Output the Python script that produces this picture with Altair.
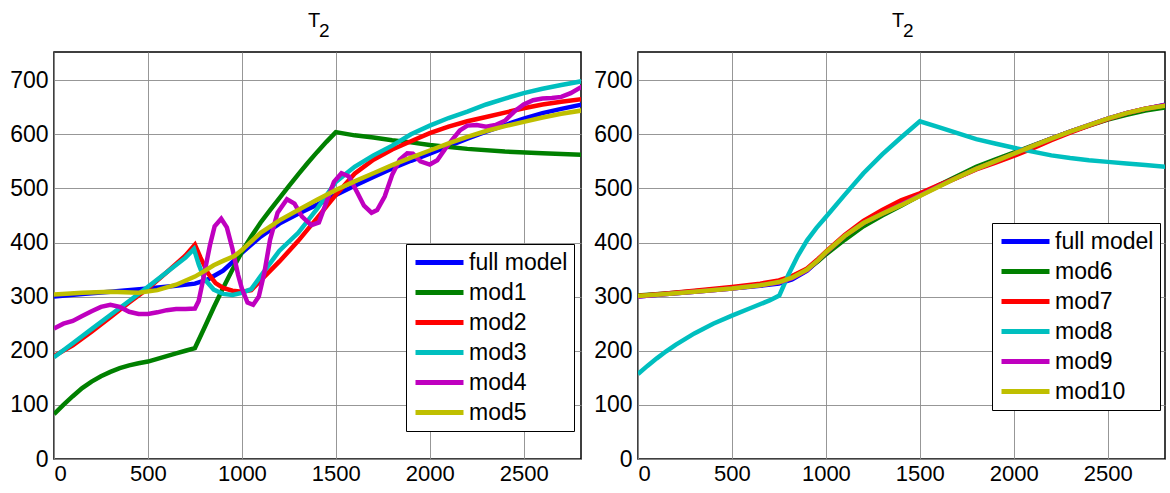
import altair as alt
import pandas as pd

# ---------------- data ----------------
full_x = [0, 150, 300, 500, 650, 750, 820, 900, 960, 1000, 1100, 1200, 1300, 1400, 1500,
          1600, 1700, 1800, 1900, 2000, 2100, 2200, 2300, 2400, 2500, 2600, 2700, 2810]
full_y = [300, 305, 309, 315, 320, 324, 332, 348, 367, 381, 411, 435, 453, 470, 488,
          505, 521, 537, 551, 564, 578, 592, 605, 617, 629, 639, 647, 655]

mod1_x = [0, 50, 100, 150, 200, 250, 300, 350, 400, 450, 500, 550, 600, 650, 700, 750,
          800, 850, 900, 950, 1000, 1050, 1100, 1150, 1200, 1250, 1300, 1350, 1400, 1450,
          1500, 1600, 1700, 1800, 1900, 2000, 2200, 2400, 2600, 2810]
mod1_y = [83, 100, 116, 131, 143, 153, 161, 168, 173, 177, 180, 185, 190, 195, 200, 205,
          242, 280, 316, 350, 383, 411, 437, 460, 482, 504, 526, 547, 567, 586,
          604, 598, 594, 589, 585, 580, 573, 568, 565, 562]

mod2_x = [0, 100, 200, 300, 400, 500, 600, 700, 750, 780, 820, 860, 900, 950, 1000, 1050,
          1100, 1200, 1300, 1400, 1500, 1600, 1700, 1800, 1900, 2000, 2100, 2200, 2300,
          2400, 2500, 2600, 2700, 2810]
mod2_y = [190, 210, 235, 262, 289, 315, 345, 376, 396, 372, 343, 325, 316, 311, 309, 312,
          330, 365, 403, 445, 488, 527, 553, 572, 587, 602, 614, 624, 632,
          640, 648, 655, 660, 665]

mod3_x = [0, 100, 200, 300, 400, 500, 600, 700, 745, 770, 800, 850, 900, 950, 1000, 1050,
          1100, 1200, 1300, 1400, 1500, 1600, 1700, 1800, 1900, 2000, 2100, 2200, 2300,
          2400, 2500, 2600, 2700, 2810]
mod3_y = [188, 214, 240, 266, 292, 318, 345, 372, 388, 360, 333, 313, 305, 303, 307, 314,
          338, 385, 418, 462, 512, 540, 561, 579, 600, 616, 630, 642, 655,
          666, 676, 684, 691, 698]

mod4_x = [0, 50, 100, 150, 200, 250, 300, 350, 400, 450, 500, 550, 600, 650, 700, 750, 770,
          790, 810, 830, 855, 890, 920, 950, 980, 1000, 1030, 1060, 1090, 1120, 1150, 1190,
          1240, 1280, 1320, 1370, 1410, 1450, 1490, 1530, 1570, 1610, 1650, 1690, 1720,
          1760, 1800, 1840, 1880, 1910, 1950, 2000, 2040, 2080, 2120, 2160, 2200, 2250,
          2300, 2350, 2400, 2450, 2500, 2550, 2600, 2650, 2700, 2750, 2810]
mod4_y = [241, 250, 255, 264, 273, 281, 285, 281, 272, 268, 268, 271, 275, 277, 277, 278, 292,
          325, 360, 395, 430, 444, 428, 388, 340, 315, 289, 285, 300, 345, 405, 455,
          480, 472, 448, 432, 437, 475, 512, 528, 522, 495, 468, 455, 460,
          485, 525, 553, 565, 564, 550, 544, 552, 572, 590, 607, 616, 617,
          614, 617, 625, 642, 655, 663, 666, 667, 669, 676, 688]

mod5_x = [0, 150, 300, 450, 550, 650, 750, 800, 850, 900, 960, 1000, 1100, 1200, 1300, 1400,
          1500, 1600, 1700, 1800, 1900, 2000, 2100, 2200, 2300, 2400, 2500, 2600, 2700, 2810]
mod5_y = [304, 307, 309, 307, 312, 322, 337, 347, 358, 366, 375, 386, 418, 441, 460, 479,
          497, 513, 528, 543, 557, 570, 583, 595, 606, 615, 623, 631, 638, 644]

mod6_y = [302, 306, 310, 316, 322, 328, 337, 350, 366, 378, 405, 430, 450, 468, 487,
          506, 523, 540, 553, 566, 579, 592, 605, 616, 627, 636, 644, 650]
mod7_y = [301, 306, 311, 318, 324, 330, 338, 352, 370, 383, 414, 440, 460, 478, 491,
          506, 520, 535, 547, 560, 574, 589, 603, 616, 628, 639, 647, 654]
mod9_y = [300, 305, 309, 315, 321, 326, 334, 349, 368, 381, 412, 436, 453, 470, 487,
          504, 520, 536, 550, 564, 578, 592, 605, 617, 629, 639, 647, 654]
mod10_y = [301, 305, 309, 315, 321, 327, 335, 350, 368, 382, 412, 436, 453, 469, 486,
           503, 520, 536, 550, 564, 578, 592, 605, 617, 629, 639, 647, 653]

mod8_x = [0, 50, 100, 150, 200, 300, 400, 500, 600, 700, 752, 800, 850, 900, 950, 1000,
          1100, 1200, 1300, 1400, 1500, 1600, 1700, 1800, 1900, 2000, 2100, 2200, 2300,
          2400, 2500, 2600, 2700, 2810]
mod8_y = [157, 172, 186, 199, 211, 232, 250, 265, 279, 293, 302, 340, 375, 404, 427, 447,
          488, 528, 563, 594, 624, 613, 602, 591, 583, 575, 568, 561, 556,
          552, 549, 546, 543, 540]

left_names = ["full model", "mod1", "mod2", "mod3", "mod4", "mod5"]
right_names = ["full model", "mod6", "mod7", "mod8", "mod9", "mod10"]
line_colors = ["#0000ff", "#008000", "#ff0000", "#00bfbf", "#bf00bf", "#bfbf00"]

x_ticks = [0, 500, 1000, 1500, 2000, 2500]
y_ticks = [0, 100, 200, 300, 400, 500, 600, 700]

title_main = "T"
title_sub = "2"

left_series = [(full_x, full_y), (mod1_x, mod1_y), (mod2_x, mod2_y),
               (mod3_x, mod3_y), (mod4_x, mod4_y), (mod5_x, mod5_y)]
right_series = [(full_x, full_y), (full_x, mod6_y), (full_x, mod7_y),
                (mod8_x, mod8_y), (full_x, mod9_y), (full_x, mod10_y)]


def make_df(names, series):
    rows = []
    for name, (xs, ys) in zip(names, series):
        for xv, yv in zip(xs, ys):
            rows.append({"series": name, "x": xv, "y": yv})
    return pd.DataFrame(rows)


FONT = "Liberation Sans"
W, H = 527, 407


def panel(names, series, lx, ly):
    df = make_df(names, series)
    color = alt.Color(
        "series:N",
        scale=alt.Scale(domain=names, range=line_colors),
        legend=alt.Legend(
            orient="none", legendX=lx, legendY=ly, title=None,
            symbolType="M-2.4,0H2.4", symbolSize=400, symbolStrokeWidth=5,
            symbolOffset=15,
            labelFont=FONT, labelFontSize=23, labelColor="black",
            labelOffset=17, rowPadding=5,
            strokeColor="black", fillColor="white", padding=6,
        ),
    )
    layers = []
    for n in names:
        layers.append(
            alt.Chart(df).transform_filter(alt.datum.series == n)
            .mark_line(strokeWidth=4.5, clip=True)
            .encode(
                x=alt.X("x:Q", scale=alt.Scale(domain=[0, 2805], nice=False, zero=False),
                        axis=alt.Axis(values=x_ticks, title=None, grid=True,
                                      labelPadding=4, labelFontSize=22, format="d")),
                y=alt.Y("y:Q", scale=alt.Scale(domain=[0, 752], nice=False),
                        axis=alt.Axis(values=y_ticks, title=None, grid=True,
                                      labelPadding=6, format="d")),
                color=color,
            )
        )
    tdf = pd.DataFrame({"t": [title_main], "s": [title_sub]})
    t_main = alt.Chart(tdf).mark_text(
        font=FONT, fontSize=20, align="left", baseline="alphabetic", color="black"
    ).encode(text="t:N", x=alt.value(254), y=alt.value(-25))
    t_sub = alt.Chart(tdf).mark_text(
        font=FONT, fontSize=19, align="left", baseline="alphabetic", color="black"
    ).encode(text="s:N", x=alt.value(265), y=alt.value(-15))
    return alt.layer(*layers, t_main, t_sub).properties(width=W, height=H)


left = panel(left_names, left_series, 352, 192)
right = panel(right_names, right_series, 354, 171)

chart = alt.hconcat(left, right, spacing=10).resolve_scale(
    color="independent"
).resolve_legend(color="independent").configure(
    padding={"left": 8, "top": 10, "right": 0, "bottom": 0},
    background="white",
).configure_view(
    stroke="black", strokeWidth=1.5,
).configure_axis(
    labelFont=FONT, labelFontSize=23, labelColor="black",
    domain=False, ticks=False,
    gridColor="#8c8c8c", gridWidth=1, gridOpacity=0.9,
)

chart.save("out.html", embed_options={"renderer": "svg", "actions": False})
